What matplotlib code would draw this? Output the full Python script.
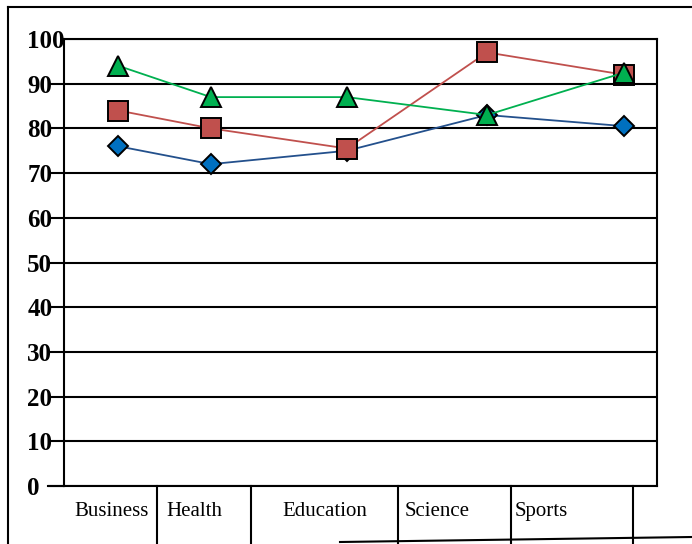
import matplotlib
matplotlib.use('Agg')
import matplotlib.pyplot as plt
from matplotlib.lines import Line2D

# %% data
categories = ['Business', 'Health', 'Education', 'Science', 'Sports']
# the points are not evenly spaced along x in the original drawing
cat_x = [0.0, 0.68, 1.68, 2.71, 3.72]

blue_vals = [76, 72, 75, 83, 80.5]
red_vals = [84, 80, 75.5, 97, 92]
green_vals = [94, 87, 87, 83, 92.5]

yticks = [0, 10, 20, 30, 40, 50, 60, 70, 80, 90, 100]

# %% layout (pixels of the 692x544 picture)
W, H = 692, 544
ax_left, ax_right, ax_top, ax_bottom = 64, 657, 39, 486
label_left = [74, 166, 282, 405, 515]
label_base = 516
seps = [157, 251, 398, 511, 633]


def _fx(x):
    return x / W


def _fy(y):
    return 1 - y / H


fig = plt.figure(figsize=(W / 100, H / 100), dpi=100)
ax = fig.add_axes([_fx(ax_left), _fy(ax_bottom),
                   (ax_right - ax_left) / W, (ax_bottom - ax_top) / H])

ax.plot(cat_x, blue_vals, color='#23508c', lw=1.3, marker='D', ms=10.5,
        mfc='#0070c0', mec='black', mew=1.4, zorder=3)
ax.plot(cat_x, red_vals, color='#c0504d', lw=1.3, marker='s', ms=14,
        mfc='#c0504d', mec='black', mew=1.4, zorder=4)
ax.plot(cat_x, green_vals, color='#00b050', lw=1.3, marker='^', ms=15,
        mfc='#00b050', mec='black', mew=1.4, zorder=5)

ax.set_xlim(-0.40, 3.96)
ax.set_ylim(0, 100)
ax.set_xticks([])
ax.set_yticks(yticks)
ax.grid(axis='y', color='black', lw=1.5)
ax.set_axisbelow(True)
for s in ax.spines.values():
    s.set_linewidth(1.5)

ax.tick_params(axis='y', direction='out', length=11.5, width=1.5, pad=15)
for lab in ax.get_yticklabels():
    lab.set_horizontalalignment('left')
    lab.set_fontfamily('Liberation Serif')
    lab.set_fontweight('bold')
    lab.set_fontsize(18)
ax.yaxis.get_major_ticks()[-1].tick1line.set_visible(False)

# category table under the axis
for x in seps:
    fig.add_artist(Line2D([_fx(x), _fx(x)], [_fy(ax_bottom), _fy(H + 2)],
                          color='black', lw=1.5))
fig.add_artist(Line2D([_fx(ax_left - 16), _fx(ax_left)], [_fy(ax_bottom), _fy(ax_bottom)],
                      color='black', lw=1.5))
fig.add_artist(Line2D([_fx(340), _fx(W)], [_fy(542), _fy(537)],
                      color='black', lw=1.5))
for name, x in zip(categories, label_left):
    fig.text(_fx(x), _fy(label_base), name, ha='left', va='baseline',
             fontfamily='Liberation Serif', fontsize=15)

# outer frame
fig.add_artist(Line2D([_fx(8), _fx(8)], [_fy(7), _fy(H + 2)], color='black', lw=1.5))
fig.add_artist(Line2D([_fx(8), _fx(W)], [_fy(7), _fy(7)], color='black', lw=1.5))

fig.savefig('out.png', dpi=100)
